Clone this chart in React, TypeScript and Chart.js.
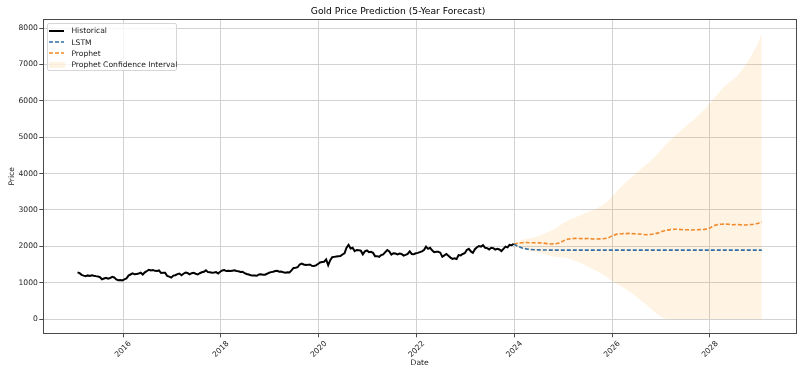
import React, { useEffect, useRef } from "react";
import { Chart, registerables } from "chart.js";

Chart.register(...registerables);

// ---------------- DATA ----------------
const TITLE = "Gold Price Prediction (5-Year Forecast)";
const X_LABEL = "Date";
const Y_LABEL = "Price";

// Historical series: semi-monthly closes, starting late Jan 2015
const HIST_START = 2015.07;
const HIST_STEP = 1 / 24;
const historical = [
  1285,
  1262, 1215, 1195, 1180, 1200, 1185, 1205, 1190, 1180, 1172, 1150, 1095,
  1115, 1135, 1110, 1128, 1160, 1145, 1090, 1070, 1072, 1062,
  // 2016
  1090, 1115, 1195, 1225, 1255, 1230, 1240, 1250, 1275, 1225, 1285, 1320,
  1355, 1335, 1345, 1325, 1320, 1335, 1265, 1270, 1270, 1185, 1165, 1140,
  // 2017
  1195, 1205, 1235, 1250, 1205, 1245, 1280, 1265, 1230, 1260, 1270, 1245,
  1225, 1260, 1285, 1300, 1340, 1290, 1285, 1275, 1280, 1290, 1250, 1300,
  // 2018
  1335, 1345, 1320, 1330, 1320, 1330, 1340, 1320, 1315, 1295, 1300, 1260,
  1240, 1225, 1205, 1195, 1200, 1190, 1225, 1230, 1220, 1220, 1245, 1275,
  // 2019
  1290, 1300, 1320, 1325, 1300, 1305, 1285, 1275, 1285, 1280, 1340, 1405,
  1410, 1425, 1500, 1525, 1500, 1485, 1490, 1500, 1465, 1460, 1475, 1515,
  // 2020
  1555, 1570, 1575, 1640, 1480, 1620, 1700, 1710, 1720, 1725, 1730, 1775,
  1810, 1960, 2040, 1940, 1960, 1865, 1900, 1895, 1880, 1780, 1860, 1885,
  // 2021
  1840, 1850, 1820, 1730, 1730, 1710, 1760, 1780, 1840, 1900, 1860, 1770,
  1810, 1800, 1780, 1800, 1790, 1745, 1765, 1790, 1860, 1790, 1785, 1810,
  // 2022
  1820, 1840, 1860, 1900, 1990, 1930, 1960, 1890, 1840, 1850, 1850, 1825,
  1710, 1750, 1790, 1740, 1690, 1655, 1670, 1650, 1760, 1750, 1790, 1810,
  // 2023
  1900, 1930, 1860, 1820, 1920, 1975, 2005, 1990, 2030, 1960, 1950, 1915,
  1960, 1950, 1910, 1930, 1915, 1870, 1930, 1990, 1970, 2040, 2030, 2065,
];

// Forecast series: 61 points, Jan 2024 -> Jan 2029
const FC_START = 2023.99;
const FC_STEP = 0.0845;
const lstm = [
  2060, 2000, 1955, 1930, 1915, 1907, 1902, 1899, 1897, 1896,
  1895, 1895, 1895, 1895, 1895, 1895, 1895, 1895, 1895, 1895,
  1895, 1895, 1895, 1895, 1895, 1895, 1895, 1895, 1895, 1895,
  1895, 1895, 1895, 1895, 1895, 1895, 1895, 1895, 1895, 1895,
  1895, 1895, 1895, 1895, 1895, 1895, 1895, 1895, 1895, 1895,
  1895, 1895, 1895, 1895, 1895, 1895, 1895, 1895, 1895, 1895,
  1895,
];
const prophet = [
  2060, 2085, 2100, 2105, 2095, 2100, 2095, 2090, 2075, 2065,
  2070, 2090, 2150, 2195, 2210, 2220, 2215, 2210, 2215, 2205,
  2200, 2205, 2215, 2240, 2300, 2335, 2345, 2350, 2355, 2345,
  2340, 2330, 2320, 2325, 2340, 2370, 2415, 2445, 2460, 2470,
  2465, 2455, 2455, 2450, 2455, 2460, 2465, 2475, 2540, 2590,
  2605, 2612, 2605, 2595, 2600, 2590, 2585, 2595, 2605, 2630,
  2675,
];
const ciUpper = [
  2090, 2140, 2180, 2200, 2230, 2250, 2280, 2330, 2380, 2430,
  2480, 2560, 2640, 2700, 2760, 2800, 2850, 2900, 2940, 2990,
  3040, 3100, 3180, 3270, 3400, 3520, 3640, 3750, 3850, 3950,
  4050, 4150, 4250, 4340, 4450, 4570, 4700, 4820, 4930, 5040,
  5140, 5240, 5340, 5430, 5530, 5640, 5750, 5870, 6000, 6140,
  6280, 6400, 6500, 6580, 6680, 6820, 6980, 7150, 7350, 7550,
  7850,
];
const ciLower = [
  2000, 1960, 1930, 1900, 1870, 1850, 1820, 1790, 1760, 1730,
  1710, 1700, 1690, 1670, 1640, 1600, 1550, 1490, 1430, 1380,
  1320, 1260, 1190, 1110, 1030, 960, 900, 830, 760, 670,
  580, 490, 400, 300, 200, 110, 40, 0, 0, 0,
  0, 0, 0, 0, 0, 0, 0, 0, 0, 0,
  0, 0, 0, 0, 0, 0, 0, 0, 0, 0,
  0,
];

const X_TICKS = [2016, 2018, 2020, 2022, 2024, 2026, 2028];
const Y_TICKS = [0, 1000, 2000, 3000, 4000, 5000, 6000, 7000, 8000];
const X_MIN = 2014.37;
const X_MAX = 2029.76;
const Y_MIN = -392;
const Y_MAX = 8242;

const LEGEND_LABELS = ["Historical", "LSTM", "Prophet", "Prophet Confidence Interval"];

// ---------------- STYLE ----------------
const FONT = "'DejaVu Sans', sans-serif";
const C_HIST = "#000000";
const C_LSTM = "#2f6fa6";
const C_PROPHET = "#f08a2a";
const C_FILL = "rgba(255, 160, 40, 0.13)";
const C_GRID = "#d2d2d2";
const C_SPINE = "#4a4a4a";

const toXY = (start: number, step: number, vals: number[]) =>
  vals.map((v, i) => ({ x: start + i * step, y: v }));

const framePlugin = {
  id: "frame",
  afterDatasetsDraw(chart: any) {
    const { ctx, chartArea } = chart;
    ctx.save();
    ctx.strokeStyle = C_SPINE;
    ctx.lineWidth = 1;
    ctx.strokeRect(
      Math.round(chartArea.left) + 0.5,
      Math.round(chartArea.top) + 0.5,
      Math.round(chartArea.right - chartArea.left),
      Math.round(chartArea.bottom - chartArea.top)
    );
    ctx.restore();
  },
};

function Legend() {
  const rowH = 11.33;
  return (
    <div
      style={{
        position: "absolute",
        left: 46.7,
        top: 23.3,
        width: 130.6,
        height: 47.4,
        boxSizing: "border-box",
        border: "1px solid #d6d6d6",
        borderRadius: 2,
        background: "rgba(255,255,255,0.8)",
        fontFamily: FONT,
        fontSize: 7.6,
        color: "#1a1a1a",
      }}
    >
      {LEGEND_LABELS.map((label, i) => (
        <div
          key={label}
          style={{
            position: "absolute",
            left: 0,
            top: 6.4 + i * rowH - 5,
            height: 10,
            width: "100%",
            display: "flex",
            alignItems: "center",
          }}
        >
          <svg width={16} height={10} style={{ marginLeft: 1.5, flex: "none" }}>
            {i === 0 && <line x1={0} y1={5} x2={15} y2={5} stroke={C_HIST} strokeWidth={2} />}
            {i === 1 && (
              <line x1={0} y1={5} x2={15} y2={5} stroke={C_LSTM} strokeWidth={1.6} strokeDasharray="4 2" />
            )}
            {i === 2 && (
              <line x1={0} y1={5} x2={15} y2={5} stroke={C_PROPHET} strokeWidth={1.6} strokeDasharray="4 2" />
            )}
            {i === 3 && <rect x={0} y={2} width={16} height={6} fill={C_FILL} />}
          </svg>
          <span style={{ marginLeft: 6.2, whiteSpace: "nowrap" }}>{label}</span>
        </div>
      ))}
    </div>
  );
}

export default function App() {
  const ref = useRef<HTMLCanvasElement | null>(null);

  useEffect(() => {
    if (!ref.current) return;
    const histData = toXY(HIST_START, HIST_STEP, historical);
    const chart = new Chart(ref.current, {
      type: "line",
      data: {
        datasets: [
          {
            label: "Historical",
            data: histData,
            borderColor: C_HIST,
            borderWidth: 2,
            pointRadius: 0,
            fill: false,
            tension: 0,
            order: 0,
          },
          {
            label: "LSTM",
            data: toXY(FC_START, FC_STEP, lstm),
            borderColor: C_LSTM,
            borderWidth: 1.6,
            borderDash: [4, 2],
            pointRadius: 0,
            fill: false,
            order: 1,
          },
          {
            label: "Prophet",
            data: toXY(FC_START, FC_STEP, prophet),
            borderColor: C_PROPHET,
            borderWidth: 1.6,
            borderDash: [4, 2],
            pointRadius: 0,
            fill: false,
            order: 2,
          },
          {
            label: "CI lower",
            data: toXY(FC_START, FC_STEP, ciLower),
            borderWidth: 0,
            borderColor: "rgba(0,0,0,0)",
            pointRadius: 0,
            fill: false,
            order: 3,
          },
          {
            label: "Prophet Confidence Interval",
            data: toXY(FC_START, FC_STEP, ciUpper),
            borderWidth: 0,
            borderColor: "rgba(0,0,0,0)",
            backgroundColor: C_FILL,
            pointRadius: 0,
            fill: { target: 3 },
            order: 3,
          },
        ],
      },
      options: {
        responsive: false,
        animation: false,
        devicePixelRatio: 1,
        events: [],
        layout: { padding: { left: 0, right: 9, top: 0, bottom: 0 } },
        plugins: {
          legend: { display: false },
          tooltip: { enabled: false },
          title: {
            display: true,
            text: TITLE,
            color: "#000",
            font: { family: FONT, size: 9.2, weight: "normal" },
            padding: { top: 6.5, bottom: 1.8 },
          },
        },
        scales: {
          x: {
            type: "linear",
            min: X_MIN,
            max: X_MAX,
            afterBuildTicks: (scale: any) => {
              scale.ticks = X_TICKS.map((v) => ({ value: v }));
            },
            afterFit: (scale: any) => {
              scale.height = 42.7;
            },
            ticks: {
              autoSkip: false,
              minRotation: 45,
              maxRotation: 45,
              padding: 2,
              labelOffset: 7,
              color: "#222",
              font: { family: FONT, size: 7.6 },
              callback: (v: any) => String(v),
            },
            grid: {
              color: C_GRID,
              lineWidth: 1,
              drawTicks: true,
              tickLength: 4,
              tickColor: C_SPINE,
            },
            border: { display: false },
            title: {
              display: true,
              text: X_LABEL,
              color: "#222",
              font: { family: FONT, size: 7.6 },
              padding: { top: 0, bottom: 8.4 },
            },
          },
          y: {
            type: "linear",
            min: Y_MIN,
            max: Y_MAX,
            afterBuildTicks: (scale: any) => {
              scale.ticks = Y_TICKS.map((v) => ({ value: v }));
            },
            afterFit: (scale: any) => {
              scale.width = 43.3;
            },
            ticks: {
              padding: 1.5,
              color: "#222",
              font: { family: FONT, size: 7.6 },
              callback: (v: any) => String(v),
            },
            grid: {
              color: C_GRID,
              lineWidth: 1,
              drawTicks: true,
              tickLength: 4,
              tickColor: C_SPINE,
            },
            border: { display: false },
            title: {
              display: true,
              text: Y_LABEL,
              color: "#222",
              font: { family: FONT, size: 7.6 },
              padding: { top: 7.4, bottom: 0 },
            },
          },
        },
      },
      plugins: [framePlugin],
    } as any);
    return () => chart.destroy();
  }, []);

  return (
    <div
      style={{
        position: "absolute",
        left: 0,
        top: 0,
        width: 805,
        height: 376,
        background: "#fff",
      }}
    >
      <canvas ref={ref} width={805} height={376} style={{ width: 805, height: 376, display: "block" }} />
      <Legend />
    </div>
  );
}
